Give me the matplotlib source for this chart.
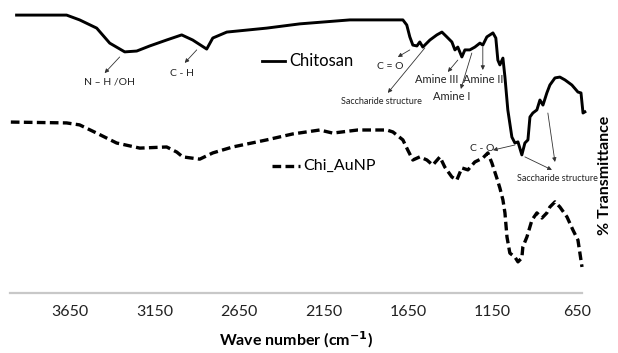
import matplotlib
matplotlib.use("Agg")
import matplotlib.pyplot as plt

plt.rcParams['font.family'] = ['Lato', 'DejaVu Sans']

# ---- data ----
chitosan_wn = [3966, 3670, 3593, 3492, 3415, 3326, 3255, 3178, 3078, 2989, 2924, 2841, 2805,
               2722, 2486, 2290, 1994, 1680, 1657, 1639, 1621, 1597, 1580, 1562, 1520, 1479,
               1449, 1420, 1390, 1372, 1355, 1331, 1313, 1284, 1254, 1224, 1207, 1183, 1165,
               1147, 1130, 1118, 1106, 1088, 1076, 1059, 1035, 1017, 999, 976, 958, 940, 928,
               911, 887, 869, 851, 828, 810, 780, 751, 721, 680, 644, 626, 614, 603]
chitosan_t = [98.2, 98.2, 96.5, 93.6, 88.3, 85.2, 85.5, 87.3, 89.4, 91.2, 89.4, 86.2, 90.1,
              92.2, 93.6, 95.1, 96.5, 96.5, 94.7, 90.5, 87.6, 87.3, 88.7, 86.9, 89.4, 91.2,
              92.2, 90.5, 88.7, 85.9, 86.9, 83.4, 85.9, 85.9, 86.9, 88.3, 87.6, 90.5, 91.2,
              91.9, 90.1, 82.3, 80.6, 83.0, 76.3, 64.7, 55.1, 53.0, 53.4, 48.8, 53.0, 54.1, 62.2,
              63.6, 64.7, 68.2, 66.4, 70.7, 73.5, 76.0, 76.3, 75.3, 73.5, 71.0, 70.7, 63.6, 64.0]

chiaunp_wn = [4000, 3670, 3593, 3492, 3374, 3237, 3078, 3018, 2983, 2882, 2805, 2687, 2486,
              2332, 2172, 2095, 1947, 1775, 1739, 1680, 1651, 1621, 1580, 1538, 1503, 1461,
              1432, 1390, 1361, 1331, 1295, 1254, 1207, 1177, 1153, 1124, 1106, 1088, 1076,
              1064, 1047, 1017, 999, 976, 970, 946, 916, 887, 857, 828, 810, 780, 751, 709,
              674, 644, 620]
chiaunp_t = [60.4, 60.1, 59.4, 56.5, 53.0, 51.2, 51.6, 49.8, 48.1, 47.3, 49.5, 51.6, 54.1,
             56.2, 57.6, 56.5, 57.6, 57.6, 56.9, 54.1, 50.5, 47.0, 48.1, 47.0, 45.2, 48.1,
             44.5, 41.0, 39.9, 44.2, 43.5, 46.3, 47.7, 49.5, 45.9, 40.6, 37.1, 32.9, 28.3,
             19.8, 14.1, 12.7, 11.0, 12.4, 16.3, 19.8, 25.8, 28.3, 26.5, 28.3, 30.4, 32.2,
             30.4, 26.9, 22.3, 18.7, 9.2]

tick_values = [3650, 3150, 2650, 2150, 1650, 1150, 650]
tick_labels = ["3650", "3150", "2650", "2150", "1650", "1150", "650"]

series_names = ["Chitosan", "Chi_AuNP"]

# annotations: text, text pos, arrow tail, arrow head
annotations = [
    ("N – H /OH", (3415, 74.6), [((3356, 83.4), (3445, 77.7))], 7.5),
    ("C - H", (2989, 77.7), [((2900, 85.9), (2971, 81.3))], 7.5),
    ("C = O", (1757, 80.2), [((1639, 85.9), (1710, 83.4))], 7.5),
    ("Saccharide structure", (1805, 67.5), [((1550, 86.6), (1769, 70.7))], 6.5),
    ("Amine III", (1479, 75.3), [((1355, 82.3), (1414, 78.1))], 8),
    ("Amine I", (1390, 69.6), [((1272, 84.8), (1337, 72.1))], 8),
    ("Amine II", (1207, 75.6), [((1207, 86.9), (1207, 78.8))], 8),
    ("C - O", (1212, 50.9), [((1017, 52.3), (1147, 50.5))], 7.5),
    ("Saccharide structure", (768, 40.6), [((958, 48.1), (798, 43.5)),
                                           ((822, 63.6), (780, 46.3))], 6.5),
]

fig = plt.figure(figsize=(6.18, 3.53), dpi=100)
ax = fig.add_axes([10/618, 60/353, 572/618, 283/353])

ax.plot(chitosan_wn, chitosan_t, color='black', lw=2.1, clip_on=False)
ax.plot(chiaunp_wn, chiaunp_t, color='black', lw=2.4, linestyle=(0, (2.6, 1.3)), clip_on=False)

ax.set_xlim(4005, 620)
ax.set_ylim(0, 100)

for s in ['top', 'left', 'right']:
    ax.spines[s].set_visible(False)
ax.spines['bottom'].set_color('#c8c8c8')
ax.spines['bottom'].set_linewidth(1.6)
ax.set_yticks([])
ax.set_xticks(tick_values)
ax.set_xticklabels(tick_labels)
ax.tick_params(axis='x', length=0, pad=9, labelsize=11.5, colors='#222222')
ax.set_xlabel("Wave number (cm$^{\\mathbf{-1}}$)", fontsize=11.5, fontweight='bold', labelpad=7)

# in-plot legend
ax.plot([2515, 2380], [82.0, 82.0], color='black', lw=2.0)
ax.text(2350, 82.0, series_names[0], fontsize=12, va='center', ha='left')
ax.plot([2456, 2290], [44.9, 44.9], color='black', lw=2.4, linestyle=(0, (2.6, 1.3)))
ax.text(2268, 44.9, series_names[1], fontsize=11.5, va='center', ha='left')

for txt, pos, arrows, fs in annotations:
    ax.text(pos[0], pos[1], txt, fontsize=fs, ha='center', va='center', color='#222222')
    for tail, head in arrows:
        ax.annotate("", xy=head, xytext=tail,
                    arrowprops=dict(arrowstyle='-|>', lw=0.6, color='#333333',
                                    mutation_scale=6, shrinkA=0, shrinkB=0))

fig.text(605/618, 1 - 175/353, "% Transmittance", rotation=90, fontsize=11.5,
         fontweight='bold', ha='center', va='center')

fig.savefig("out.png", dpi=100)
